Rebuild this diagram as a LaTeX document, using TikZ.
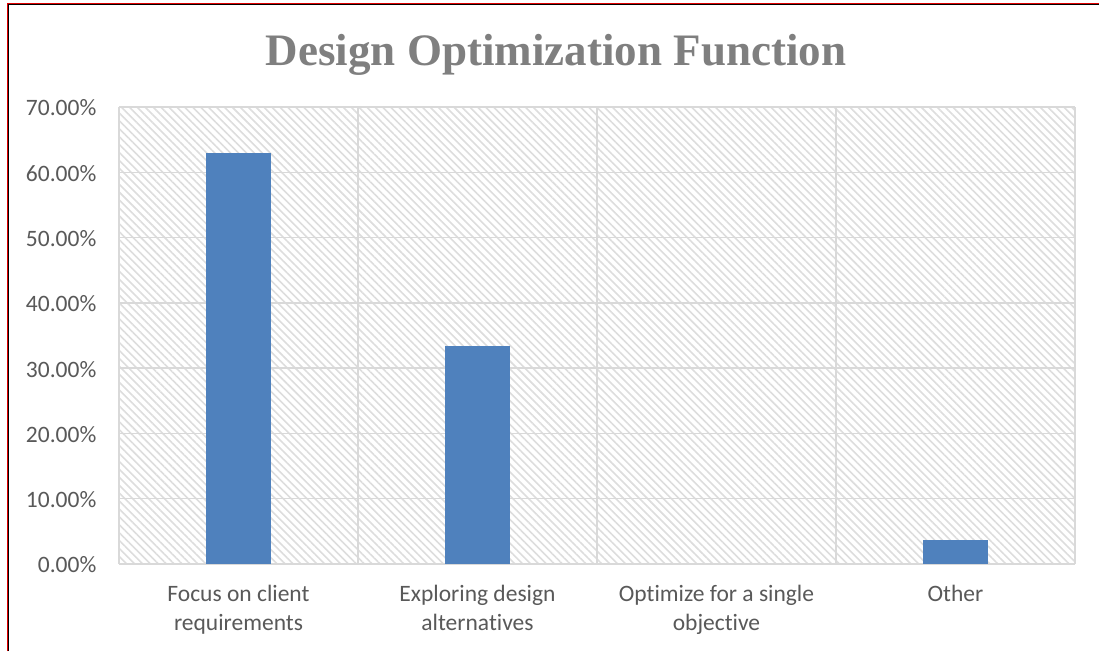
\documentclass[tikz,border=0pt]{standalone}
\usepackage{fontspec}
\setmainfont[Ligatures={NoCommon}]{Carlito}
\newfontfamily\titlefont{Liberation Serif}
\usetikzlibrary{patterns.meta}
\definecolor{barblue}{HTML}{4F81BD}
\definecolor{gridgray}{HTML}{D9D9D9}
\definecolor{hatchgray}{HTML}{DDDDDD}
\definecolor{txtgray}{HTML}{595959}
\definecolor{titlegray}{HTML}{7F7F7F}
\definecolor{frameRed}{HTML}{E00000}
\tikzset{
  ylab/.style={anchor=east, text=txtgray, font=\fontsize{23.5}{26}\selectfont, inner sep=0pt},
  catlab/.style={anchor=north, text=txtgray, font=\fontsize{23.5}{29}\selectfont, align=center, inner sep=0pt},
  gridline/.style={draw=gridgray, line width=1.5pt},
  barstyle/.style={fill=barblue, draw=none},
}
\begin{document}
\begin{tikzpicture}[x=1pt,y=-1pt]
\useasboundingbox (0,0) rectangle (1099,651);
\fill[white] (0,0) rectangle (1099,651);
% frame
\draw[frameRed, line width=1pt] (7,651) -- (7,3.3) -- (1099,3.3);
\draw[black, line width=1.1pt] (8.3,651) -- (8.3,4.6) -- (1099,4.6);
% title
\node[anchor=base, text=titlegray, font=\titlefont\bfseries\fontsize{45}{50}\selectfont, inner sep=0pt] (title) at (556,65) {Design Optimization Function};
% plot area hatch
\fill[pattern={Lines[angle=-45, distance=5.6pt, line width=1.6pt]}, pattern color=hatchgray] (119,107) rectangle (1075,564);
% grid
\foreach \k in {0,...,7} {
  \draw[gridline] (119,{564-\k*65.286}) -- (1075,{564-\k*65.286});
}
\foreach \xx in {119,358,597,836,1075} {
  \draw[gridline] (\xx,107) -- (\xx,564);
}
% y labels
\foreach \k/\lab in {0/0.00\%,1/10.00\%,2/20.00\%,3/30.00\%,4/40.00\%,5/50.00\%,6/60.00\%,7/70.00\%} {
  \node[ylab] (y\k) at (96.5,{565-\k*65.286}) {\lab};
}
% bars
\fill[barstyle] (206,564) rectangle (271,{564-62.96*6.5286});
\fill[barstyle] (445,564) rectangle (510,{564-33.33*6.5286});
\fill[barstyle] (923,564) rectangle (988,{564-3.70*6.5286});
% category labels
\node[catlab] (c1) at (238.5,585) {Focus on client\\requirements};
\node[catlab] (c2) at (477.5,585) {Exploring design\\alternatives};
\node[catlab] (c3) at (716.5,585) {Optimize for a single\\objective};
\node[catlab] (c4) at (955.5,585) {Other};
\end{tikzpicture}
\end{document}
